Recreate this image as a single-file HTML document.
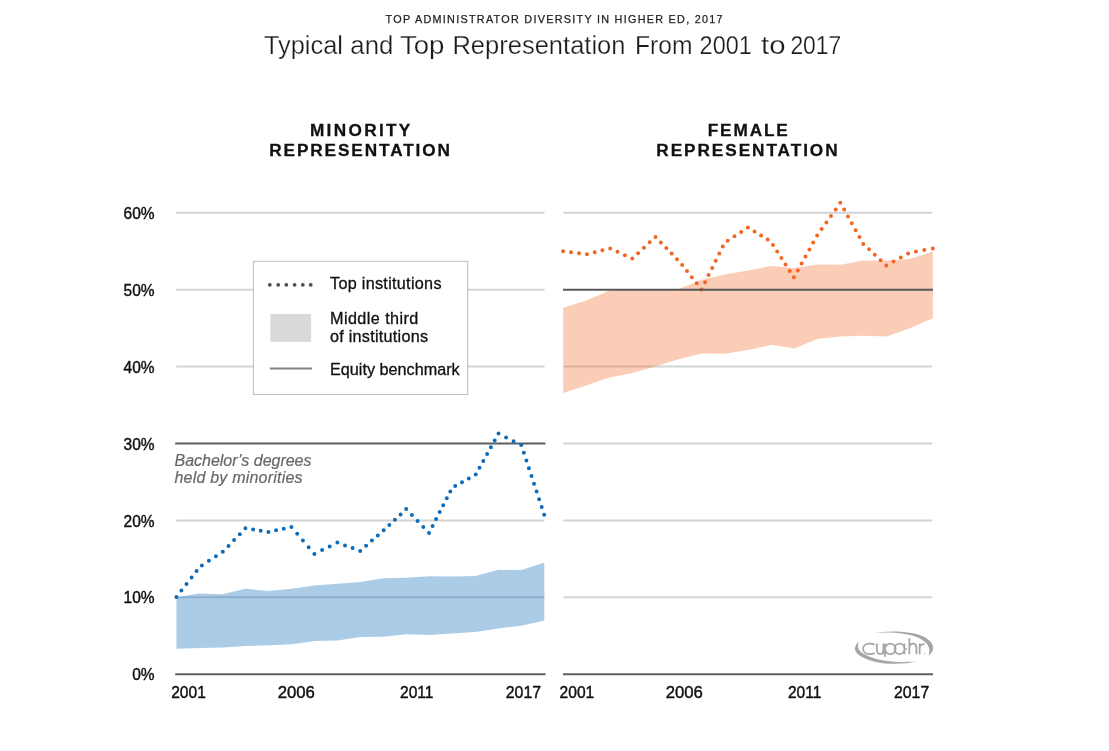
<!DOCTYPE html>
<html><head><meta charset="utf-8"><title>Typical and Top Representation From 2001 to 2017</title>
<style>
html,body{margin:0;padding:0;background:#fff;}
body{width:1109px;height:751px;overflow:hidden;font-family:"Liberation Sans",sans-serif;}
svg{display:block;}
text{font-family:"Liberation Sans",sans-serif;}
.ax{font-size:17.2px;fill:#111;stroke:#111;stroke-width:0.45px;}
.lg{font-size:16.2px;fill:#111;stroke:#111;stroke-width:0.3px;}
.it{font-size:16px;fill:#67686b;font-style:italic;stroke:#67686b;stroke-width:0.2px;}
.hd{font-size:17.2px;font-weight:bold;fill:#111;stroke:#111;stroke-width:0.3px;}
</style></head><body>
<svg style="will-change:transform" width="1109" height="751" viewBox="0 0 1109 751">
<rect width="1109" height="751" fill="#fff"/>

<text x="385.6" y="22.9" font-size="10.8" fill="#222" stroke="#222" stroke-width="0.25" textLength="337" lengthAdjust="spacing">TOP ADMINISTRATOR DIVERSITY IN HIGHER ED, 2017</text>
<text x="263.9" y="53.7" font-size="25.4" fill="#1c1c1c" stroke="#fff" stroke-width="0.25" textLength="79.1" lengthAdjust="spacingAndGlyphs">Typical</text>
<text x="350.3" y="53.7" font-size="25.4" fill="#1c1c1c" stroke="#fff" stroke-width="0.25" textLength="43.0" lengthAdjust="spacingAndGlyphs">and</text>
<text x="399.9" y="53.7" font-size="25.4" fill="#1c1c1c" stroke="#fff" stroke-width="0.25" textLength="44.5" lengthAdjust="spacingAndGlyphs">Top</text>
<text x="452.4" y="53.7" font-size="25.4" fill="#1c1c1c" stroke="#fff" stroke-width="0.25" textLength="173.1" lengthAdjust="spacingAndGlyphs">Representation</text>
<text x="634.9" y="53.7" font-size="25.4" fill="#1c1c1c" stroke="#fff" stroke-width="0.25" textLength="57.6" lengthAdjust="spacingAndGlyphs">From</text>
<text x="699.6" y="53.7" font-size="25.4" fill="#1c1c1c" stroke="#fff" stroke-width="0.25" textLength="52.2" lengthAdjust="spacingAndGlyphs">2001</text>
<text x="761.1" y="53.7" font-size="25.4" fill="#1c1c1c" stroke="#fff" stroke-width="0.25" textLength="24.5" lengthAdjust="spacingAndGlyphs">to</text>
<text x="790.4" y="53.7" font-size="25.4" fill="#1c1c1c" stroke="#fff" stroke-width="0.25" textLength="50.9" lengthAdjust="spacingAndGlyphs">2017</text>
<text class="hd" x="309.9" y="136.2" textLength="100.4" lengthAdjust="spacing">MINORITY</text>
<text class="hd" x="269.2" y="156" textLength="180.8" lengthAdjust="spacing">REPRESENTATION</text>
<text class="hd" x="707.7" y="136.2" textLength="80.1" lengthAdjust="spacing">FEMALE</text>
<text class="hd" x="656.3" y="156" textLength="181.3" lengthAdjust="spacing">REPRESENTATION</text>
<text class="ax" x="132.2" y="680.3" textLength="22.4" lengthAdjust="spacingAndGlyphs">0%</text>
<text class="ax" x="123.6" y="603.4" textLength="31.0" lengthAdjust="spacingAndGlyphs">10%</text>
<text class="ax" x="123.6" y="526.5" textLength="31.0" lengthAdjust="spacingAndGlyphs">20%</text>
<text class="ax" x="123.6" y="449.6" textLength="31.0" lengthAdjust="spacingAndGlyphs">30%</text>
<text class="ax" x="123.6" y="372.7" textLength="31.0" lengthAdjust="spacingAndGlyphs">40%</text>
<text class="ax" x="123.6" y="295.8" textLength="31.0" lengthAdjust="spacingAndGlyphs">50%</text>
<text class="ax" x="123.6" y="218.9" textLength="31.0" lengthAdjust="spacingAndGlyphs">60%</text>
<line x1="176.2" x2="544.5" y1="212.8" y2="212.8" stroke="#d1d3d4" stroke-width="2"/>
<line x1="176.2" x2="544.5" y1="289.7" y2="289.7" stroke="#d1d3d4" stroke-width="2"/>
<line x1="176.2" x2="544.5" y1="366.6" y2="366.6" stroke="#d1d3d4" stroke-width="2"/>
<line x1="176.2" x2="544.5" y1="520.4" y2="520.4" stroke="#d1d3d4" stroke-width="2"/>
<line x1="176.2" x2="544.5" y1="597.3" y2="597.3" stroke="#d1d3d4" stroke-width="2"/>
<line x1="563.4" x2="932.3" y1="212.8" y2="212.8" stroke="#d1d3d4" stroke-width="2"/>
<line x1="563.4" x2="932.3" y1="366.6" y2="366.6" stroke="#d1d3d4" stroke-width="2"/>
<line x1="563.4" x2="932.3" y1="443.5" y2="443.5" stroke="#d1d3d4" stroke-width="2"/>
<line x1="563.4" x2="932.3" y1="520.4" y2="520.4" stroke="#d1d3d4" stroke-width="2"/>
<line x1="563.4" x2="932.3" y1="597.3" y2="597.3" stroke="#d1d3d4" stroke-width="2"/>
<polygon points="176.4,597.3 199.4,593.5 222.4,594.2 245.4,588.8 268.4,591.1 291.4,588.8 314.4,585.4 337.4,583.7 360.4,582.1 383.3,578.3 406.3,577.7 429.3,576.2 452.3,576.5 475.3,576.0 498.3,569.8 521.3,570.0 544.3,562.7 544.3,620.4 521.3,625.8 498.3,628.4 475.3,631.9 452.3,633.4 429.3,635.0 406.3,634.2 383.3,636.7 360.4,637.1 337.4,640.4 314.4,641.1 291.4,644.2 268.4,645.3 245.4,646.1 222.4,647.6 199.4,648.1 176.4,648.8" fill="#0d6cb9" fill-opacity="0.35"/>
<polygon points="563.2,307.7 586.3,300.6 609.4,290.5 632.5,289.7 655.6,289.7 678.7,288.9 701.8,279.7 724.9,274.6 748.0,270.5 771.2,266.0 794.3,267.9 817.4,264.5 840.5,264.7 863.6,260.5 886.7,260.6 909.8,259.1 932.9,251.5 932.9,318.2 909.8,328.2 886.7,336.5 863.6,335.7 840.5,336.5 817.4,339.1 794.3,348.6 771.2,344.8 748.0,350.1 724.9,353.8 701.8,353.5 678.7,359.2 655.6,366.3 632.5,373.1 609.4,377.5 586.3,385.4 563.2,392.9" fill="#f26522" fill-opacity="0.33"/>
<line x1="175.2" x2="545.5" y1="443.5" y2="443.5" stroke="#5e5f61" stroke-width="2"/>
<line x1="175.2" x2="545.5" y1="674.2" y2="674.2" stroke="#5e5f61" stroke-width="2"/>
<line x1="563" x2="933" y1="674.2" y2="674.2" stroke="#5e5f61" stroke-width="2"/>
<path d="M176.4,596.9h0M181.4,590.4h0M186.5,583.9h0M191.6,577.4h0M196.6,570.9h0M201.9,565.4h0M208.9,560.8h0M215.9,556.3h0M222.8,551.8h0M228.5,545.9h0M234.1,540.0h0M239.8,534.2h0M245.4,528.3h0M253.1,529.5h0M260.7,530.7h0M268.4,531.9h0M276.1,530.3h0M283.7,528.7h0M291.4,527.1h0M297.2,533.8h0M302.9,540.5h0M308.7,547.2h0M314.4,553.9h0M322.1,550.1h0M329.7,546.4h0M337.4,542.6h0M345.0,545.4h0M352.6,548.1h0M360.2,550.9h0M366.1,545.8h0M371.9,540.6h0M377.8,535.5h0M383.7,530.3h0M389.3,525.0h0M394.9,519.7h0M400.6,514.4h0M406.2,509.0h0M411.9,515.0h0M417.6,521.0h0M423.3,526.9h0M429.0,532.9h0M432.6,526.0h0M436.1,519.0h0M439.7,512.1h0M443.2,505.2h0M446.8,498.3h0M450.3,491.4h0M455.2,486.0h0M462.0,482.2h0M468.8,478.4h0M475.7,474.5h0M479.5,467.7h0M483.3,460.9h0M487.1,454.1h0M490.9,447.3h0M494.7,440.4h0M498.5,433.6h0M506.1,437.4h0M513.6,441.2h0M521.2,444.9h0M523.8,452.7h0M526.4,460.4h0M528.9,468.2h0M531.5,476.0h0M534.0,483.7h0M536.6,491.5h0M539.1,499.3h0M541.7,507.0h0M544.2,514.8h0" fill="none" stroke="#0d6cb9" stroke-width="4.0" stroke-linecap="round"/>
<path d="M563.1,251.3h0M571.0,252.3h0M579.0,253.3h0M586.9,254.3h0M594.7,252.3h0M602.4,250.3h0M610.2,248.4h0M617.5,251.8h0M624.9,255.2h0M632.3,258.6h0M638.1,253.2h0M643.9,247.7h0M649.7,242.3h0M655.5,236.9h0M660.9,242.4h0M666.3,248.0h0M671.7,253.6h0M677.0,259.2h0M682.2,265.0h0M687.0,271.1h0M691.8,277.2h0M696.7,283.3h0M701.5,289.5h0M705.1,282.3h0M708.6,275.1h0M712.2,268.0h0M715.7,260.8h0M719.3,253.6h0M722.8,246.4h0M727.7,240.7h0M734.5,236.3h0M741.2,231.9h0M747.9,227.5h0M754.5,231.5h0M761.1,235.6h0M767.7,239.6h0M773.0,245.0h0M777.2,251.4h0M781.4,257.9h0M785.5,264.4h0M789.7,270.9h0M793.9,277.3h0M797.8,270.4h0M801.6,263.4h0M805.5,256.5h0M809.4,249.5h0M813.2,242.5h0M817.1,235.6h0M821.7,229.0h0M826.4,222.5h0M831.0,215.9h0M835.7,209.4h0M840.3,202.8h0M844.2,209.6h0M848.0,216.5h0M851.8,223.3h0M855.7,230.2h0M859.5,237.0h0M863.3,243.9h0M869.1,249.3h0M874.8,254.8h0M880.6,260.2h0M886.3,265.6h0M893.6,261.6h0M900.8,257.5h0M908.1,253.5h0M915.9,251.4h0M924.3,250.0h0M932.8,248.6h0" fill="none" stroke="#f26522" stroke-width="4.0" stroke-linecap="round"/>
<line x1="563" x2="933" y1="289.7" y2="289.7" stroke="#58595b" stroke-width="2"/>
<text class="it" x="174.5" y="465.7" textLength="137" lengthAdjust="spacing">Bachelor’s degrees</text>
<text class="it" x="174.5" y="483.2" textLength="128" lengthAdjust="spacing">held by minorities</text>
<text class="ax" x="171.2" y="698.2" textLength="34.6" lengthAdjust="spacingAndGlyphs">2001</text>
<text class="ax" x="277.7" y="698.2" textLength="37.2" lengthAdjust="spacingAndGlyphs">2006</text>
<text class="ax" x="400.1" y="698.2" textLength="33.4" lengthAdjust="spacingAndGlyphs">2011</text>
<text class="ax" x="505.8" y="698.2" textLength="35.2" lengthAdjust="spacingAndGlyphs">2017</text>
<text class="ax" x="559.6" y="698.2" textLength="34.6" lengthAdjust="spacingAndGlyphs">2001</text>
<text class="ax" x="665.7" y="698.2" textLength="37.2" lengthAdjust="spacingAndGlyphs">2006</text>
<text class="ax" x="787.9" y="698.2" textLength="33.4" lengthAdjust="spacingAndGlyphs">2011</text>
<text class="ax" x="894.0" y="698.2" textLength="35.2" lengthAdjust="spacingAndGlyphs">2017</text>
<rect x="253.4" y="261.3" width="214.3" height="133.2" fill="#fff" stroke="#bcbec0" stroke-width="1"/>
<circle cx="269.8" cy="284.8" r="1.9" fill="#4d4d4f"/>
<circle cx="278.2" cy="284.8" r="1.9" fill="#4d4d4f"/>
<circle cx="286.3" cy="284.8" r="1.9" fill="#4d4d4f"/>
<circle cx="294.6" cy="284.8" r="1.9" fill="#4d4d4f"/>
<circle cx="302.8" cy="284.8" r="1.9" fill="#4d4d4f"/>
<circle cx="310.7" cy="284.8" r="1.9" fill="#4d4d4f"/>
<text class="lg" x="330" y="288.7" textLength="111.5" lengthAdjust="spacing">Top institutions</text>
<rect x="270.4" y="313.9" width="40.7" height="28" fill="#d8d9db"/>
<text class="lg" x="330" y="324.4" textLength="88.3" lengthAdjust="spacing">Middle third</text>
<text class="lg" x="330" y="341.9" textLength="98" lengthAdjust="spacing">of institutions</text>
<line x1="269.8" x2="311.9" y1="368.5" y2="368.5" stroke="#808285" stroke-width="2"/>
<text class="lg" x="330" y="374.6" textLength="129.7" lengthAdjust="spacing">Equity benchmark</text>
<g transform="translate(852,628) scale(0.075758)" fill="none" stroke="#a3a5a8" stroke-width="23">
<path d="M280,72 C420,35 720,30 900,95 C1010,135 1075,200 1070,270 C1066,310 1045,340 1010,366 C1028,320 1030,275 1000,225 C960,162 860,108 720,82 C570,55 400,56 280,72 Z" fill="#a3a5a8" stroke="none"/>
<path d="M85,180 C55,210 35,245 40,285 C48,345 150,410 300,445 C480,487 700,480 862,440 C720,455 520,452 355,415 C210,382 100,325 85,270 C78,240 80,205 85,180 Z" fill="#a3a5a8" stroke="none"/>
<path d="M300,220 C280,208 255,205 225,205 C180,205 147,236 147,275 C147,314 180,345 225,345 C255,345 280,342 300,330"/>
<path d="M328,205 V285 C328,322 345,345 371,345 C397,345 414,322 414,285 M414,205 V345"/>
<path d="M436,205 V380 M436,275 C436,236 467,205 506,205 C545,205 576,236 576,275 C576,314 545,345 506,345 C467,345 436,314 436,275"/>
<path d="M692,205 V345 M692,275 C692,236 663,205 627,205 C591,205 562,236 562,275 C562,314 591,345 627,345 C663,345 692,314 692,275"/>
<circle cx="714" cy="277" r="13" fill="#a3a5a8" stroke="none"/>
<path d="M757,135 V345 M757,270 C757,230 778,205 806,205 C834,205 850,230 850,265 V345"/>
<path d="M893,205 V345 M893,268 C893,232 915,208 957,213"/>
<circle cx="958" cy="337" r="8" fill="#a3a5a8" stroke="none"/>
</g>
</svg></body></html>
